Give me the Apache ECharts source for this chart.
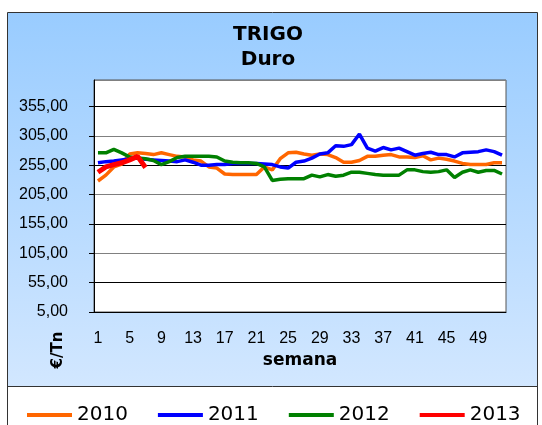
<!DOCTYPE html>
<html>
<head>
<meta charset="utf-8">
<script src="https://cdn.jsdelivr.net/npm/echarts@6.0.0/dist/echarts.min.js"></script>
<style>
  html, body { margin: 0; padding: 0; background: #fff; }
  #chart { width: 542px; height: 425px; }
</style>
</head>
<body>
<div id="chart"></div>
<script>
// weeks 1..52
const weeks = Array.from({ length: 52 }, (_, i) => String(i + 1))

const s2010 = [228, 238, 252, 257, 274, 276, 275, 273, 276, 273, 270, 269, 264, 262, 252, 250, 240,
  239, 239, 239, 239, 252, 247, 266, 276, 277, 274, 272, 274, 273, 268, 260, 260, 263, 270,
  270, 272, 273, 269, 269, 268, 271, 264, 267, 265, 262, 258, 256, 256, 256, 259, 259]
const s2011 = [259, 261, 262, 264, 266, 267, 265, 264, 263, 262, 261, 264, 260, 255, 255, 256, 256,
  258, 258, 258, 258, 257, 256, 252, 250, 260, 262, 267, 274, 276, 288, 287, 290, 308, 284,
  279, 285, 281, 284, 278, 272, 275, 277, 273, 273, 269, 276, 277, 278, 281, 278, 272]
const s2012 = [276, 276, 282, 276, 269, 267, 266, 263, 256, 261, 268, 270, 270, 270, 270, 269, 262,
  260, 259, 259, 258, 252, 229, 231, 232, 232, 232, 238, 235, 239, 236, 238, 243, 243, 241,
  239, 238, 238, 238, 247, 247, 244, 243, 244, 247, 234, 243, 247, 243, 246, 246, 240]
const s2013 = [243, 252, 256, 259, 264, 270, 251]

const seriesNames = ['2010', '2011', '2012', '2013']
const seriesColors = ['#FF6600', '#0000FF', '#008000', '#FF0000']
const seriesData = [s2010, s2011, s2012, s2013]

const chart = echarts.init(document.getElementById('chart'))

const option = {
  backgroundColor: '#fff',
  animation: false,
  title: {
    text: 'TRIGO\nDuro',
    left: 263,
    top: 17,
    textAlign: 'center',
    textStyle: {
      fontFamily: 'DejaVu Sans',
      fontWeight: 'bold',
      fontSize: 20,
      lineHeight: 25,
      color: '#000',
    },
  },
  graphic: [
    {
      type: 'rect',
      z: -10,
      silent: true,
      shape: { x: 7.5, y: 12.5, width: 530, height: 374 },
      style: {
        fill: new echarts.graphic.LinearGradient(0, 0, 0, 1, [
          { offset: 0, color: '#99CCFF' },
          { offset: 1, color: '#D2E7FF' },
        ]),
        stroke: '#333',
        lineWidth: 1,
      },
    },
    {
      type: 'line',
      z: -10,
      silent: true,
      shape: { x1: 7.5, y1: 386, x2: 7.5, y2: 425 },
      style: { stroke: '#333', lineWidth: 1 },
    },
    {
      type: 'line',
      z: 100,
      silent: true,
      shape: { x1: 537.5, y1: 386, x2: 537.5, y2: 425 },
      style: { stroke: '#333', lineWidth: 1 },
    },
    {
      type: 'text',
      z: 100,
      silent: true,
      x: 58,
      y: 350,
      rotation: Math.PI / 2,
      style: {
        text: '€/Tn',
        fontFamily: 'DejaVu Sans',
        fontWeight: 'bold',
        fontSize: 15,
        fill: '#000',
        align: 'center',
        verticalAlign: 'middle',
      },
    },
  ],
  legend: {
    left: 22,
    top: 398,
    width: 800,
    icon: 'rect',
    itemWidth: 45,
    itemHeight: 4,
    itemGap: 30,
    textStyle: {
      fontFamily: 'DejaVu Sans',
      fontSize: 20,
      color: '#000',
      lineHeight: 24,
    },
    data: seriesNames,
  },
  grid: {
    left: 94,
    right: 36,
    top: 80,
    bottom: 113,
    show: true,
    backgroundColor: '#fff',
    borderColor: '#555',
    borderWidth: 1,
  },
  xAxis: {
    type: 'category',
    data: weeks,
    boundaryGap: true,
    name: 'semana',
    nameLocation: 'middle',
    nameGap: 40,
    nameTextStyle: {
      fontFamily: 'DejaVu Sans',
      fontWeight: 'bold',
      fontSize: 17,
      color: '#000',
    },
    axisLine: { lineStyle: { color: '#000', width: 1 } },
    axisTick: { interval: 0, length: 4, lineStyle: { color: '#000' } },
    axisLabel: {
      interval: 3,
      margin: 19,
      fontFamily: 'Liberation Sans',
      fontSize: 16,
      color: '#000',
    },
    splitLine: { show: false },
  },
  yAxis: {
    type: 'value',
    min: 5,
    max: 400,
    interval: 50,
    axisLine: { show: true, lineStyle: { color: '#000', width: 1 } },
    axisTick: { show: true, length: 5, lineStyle: { color: '#000' } },
    axisLabel: {
      showMaxLabel: false,
      margin: 26,
      fontFamily: 'Liberation Sans',
      fontSize: 16,
      color: '#000',
      formatter: (v) => v.toFixed(2).replace('.', ','),
    },
    splitLine: {
      show: true,
      lineStyle: { color: ['#808080', '#000'], width: 1 },
    },
  },
  series: seriesNames.map((name, i) => ({
    name: name,
    type: 'line',
    data: seriesData[i],
    symbol: 'none',
    smooth: false,
    color: seriesColors[i],
    lineStyle: { color: seriesColors[i], width: i === 3 ? 5 : 3.5 },
  })),
}

chart.setOption(option)
</script>
</body>
</html>
